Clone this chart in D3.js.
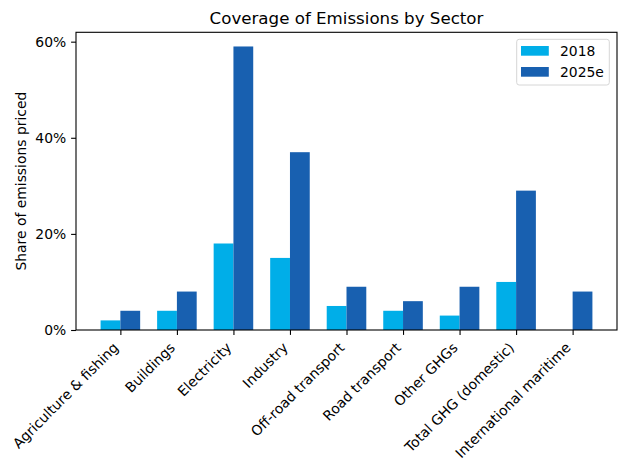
<!DOCTYPE html>
<html>
<head>
<meta charset="utf-8">
<script src="https://cdn.jsdelivr.net/npm/d3@7/dist/d3.min.js"></script>
<style>
  html, body { margin: 0; padding: 0; background: #fff; }
  svg { display: block; font-family: "DejaVu Sans", sans-serif; }
</style>
</head>
<body>
<svg id="chart" width="626" height="470"></svg>
<script>
const categories = ["Agriculture & fishing", "Buildings", "Electricity", "Industry",
  "Off-road transport", "Road transport", "Other GHGs", "Total GHG (domestic)", "International maritime"];
const series2018 = [2, 4, 18, 15, 5, 4, 3, 10, 0];
const series2025e = [4, 8, 59, 37, 9, 6, 9, 29, 8];
const seriesNames = ["2018", "2025e"];
const seriesColors = ["#00AEE8", "#1860B0"];
const yTicks = [0, 20, 40, 60];
const title = "Coverage of Emissions by Sector";
const yLabel = "Share of emissions priced";

const svg = d3.select("#chart");
const L = 76, R = 617, T = 32.3, B = 330;
const barW = 0.35;
const n = categories.length;
const maxV = d3.max(series2018.concat(series2025e));

const x = d3.scaleLinear()
  .domain([-barW - 0.05 * (n - 1 + 2 * barW), (n - 1) + barW + 0.05 * (n - 1 + 2 * barW)])
  .range([L, R]);
const y = d3.scaleLinear().domain([0, maxV * 1.05]).range([B, T]);

const allSeries = [series2018, series2025e];
allSeries.forEach((vals, s) => {
  svg.append("g").selectAll("rect").data(vals).join("rect")
    .attr("x", (d, i) => x(i + (s === 0 ? -barW : 0)))
    .attr("width", x(barW) - x(0))
    .attr("y", d => y(d))
    .attr("height", d => y(0) - y(d))
    .attr("fill", seriesColors[s]);
});

// axes frame
svg.append("rect").attr("x", L).attr("y", T).attr("width", R - L).attr("height", B - T)
  .attr("fill", "none").attr("stroke", "#000").attr("stroke-width", 1.1);

// y axis
const yAxis = d3.axisLeft(y).tickValues(yTicks).tickFormat(d => d + "%").tickSize(4.9).tickPadding(4.9);
const gy = svg.append("g").attr("transform", `translate(${L},0)`).call(yAxis);
gy.select(".domain").remove();
gy.selectAll("text").attr("font-size", 13.9).attr("font-family", "DejaVu Sans").attr("fill", "#000");
gy.selectAll("line").attr("stroke", "#000").attr("stroke-width", 1.1);

// x axis
const xAxis = d3.axisBottom(x).tickValues(d3.range(n)).tickFormat(i => categories[i]).tickSize(4.9);
const gx = svg.append("g").attr("transform", `translate(0,${B})`).call(xAxis);
gx.select(".domain").remove();
gx.selectAll("line").attr("stroke", "#000").attr("stroke-width", 1.1);
gx.selectAll("text")
  .attr("font-size", 13.9).attr("font-family", "DejaVu Sans").attr("fill", "#000")
  .attr("text-anchor", "end")
  .attr("x", -2.2).attr("y", 0).attr("dy", 0)
  .attr("transform", "translate(0,17) rotate(-45)");

// title
svg.append("text").attr("x", (L + R) / 2).attr("y", 24).attr("text-anchor", "middle")
  .attr("font-size", 16.67).text(title);

// y label
svg.append("text").attr("transform", `translate(26,${(T + B) / 2}) rotate(-90)`)
  .attr("text-anchor", "middle").attr("font-size", 13.9).text(yLabel);

// legend
const lg = svg.append("g");
lg.append("rect").attr("x", 516.7).attr("y", 39.3).attr("width", 92.6).attr("height", 45.7)
  .attr("rx", 2.5).attr("fill", "#fff").attr("fill-opacity", 0.8)
  .attr("stroke", "#d6d6d6").attr("stroke-width", 1);
seriesNames.forEach((name, s) => {
  lg.append("rect").attr("x", 521).attr("y", 46 + s * 21).attr("width", 27.8).attr("height", 9.7)
    .attr("fill", seriesColors[s]);
  lg.append("text").attr("x", 560).attr("y", 56 + s * 21).attr("font-size", 13.9).text(name);
});
</script>
</body>
</html>
